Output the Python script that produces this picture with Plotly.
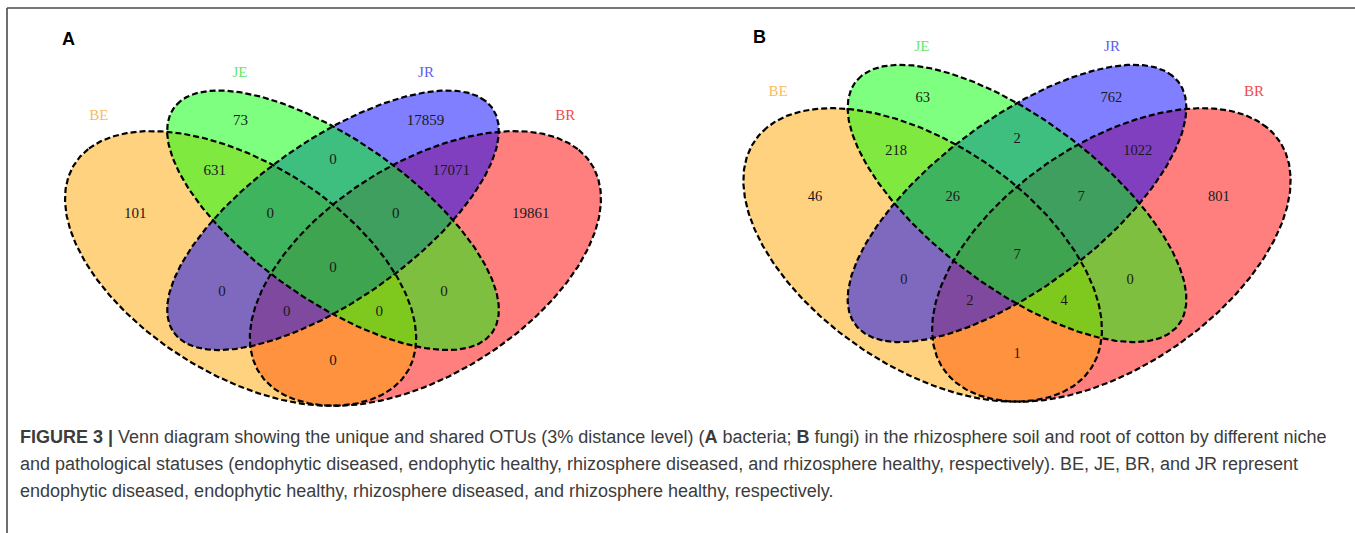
import numpy as np
import plotly.graph_objects as go

# ---------------- data ----------------
set_names = ["BE", "JE", "JR", "BR"]
region_names = ["JE", "JR", "BE&JE", "JE&JR", "JR&BR", "BE", "BE&JE&JR", "JE&JR&BR",
                "BR", "BE&JE&JR&BR", "BE&JR", "JE&BR", "BE&JR&BR", "BE&JE&BR", "BE&BR"]
counts_A = [73, 17859, 631, 0, 17071, 101, 0, 0, 19861, 0, 0, 0, 0, 0, 0]
counts_B = [63, 762, 218, 2, 1022, 46, 26, 7, 801, 7, 0, 0, 2, 4, 1]
panel_letters = ["A", "B"]

# ---------------- layout / geometry (normalised venn units) ----------------
W, H = 1355, 533
# centre u, centre v, semi-major, semi-minor, major-axis angle (deg)
ellipse_geom = {
    "BE": (0.35, 0.47, 0.35, 0.20, 135),
    "JE": (0.50, 0.57, 0.35, 0.15, 135),
    "JR": (0.50, 0.57, 0.35, 0.15, 45),
    "BR": (0.65, 0.47, 0.35, 0.20, 45),
}
fill_rgba = {
    "BE": "rgba(255,165,0,0.5)",
    "JE": "rgba(0,255,0,0.5)",
    "JR": "rgba(0,0,255,0.5)",
    "BR": "rgba(255,0,0,0.5)",
}
label_color = {"BE": "#F6BC62", "JE": "#66E866", "JR": "#5C5CF2", "BR": "#EE4B4B"}
fill_order = ["BR", "BE", "JR", "JE"]
cat_pos = {"BE": (0.120, 0.786), "JE": (0.349, 0.874), "JR": (0.651, 0.874), "BR": (0.877, 0.786)}
region_pos = [(0.350, 0.775), (0.650, 0.775), (0.308, 0.672), (0.500, 0.695), (0.692, 0.672),
              (0.179, 0.582), (0.398, 0.582), (0.602, 0.582), (0.821, 0.582), (0.500, 0.470),
              (0.320, 0.420), (0.680, 0.420), (0.425, 0.379), (0.575, 0.379), (0.500, 0.277)]

# pixel mapping for each panel: X0, sx, Y0, sy, x-domain
panels = [
    dict(X0=25.0, sx=616.0, Y0=495.0, sy=482.0, dom=(0.0, 0.5), counts=counts_A, fs=15),
    dict(X0=702.5, sx=629.0, Y0=497.0, sy=515.0, dom=(0.5, 1.0), counts=counts_B, fs=14.5),
]


def ellipse_xy(cu, cv, a, b, ang, n=400):
    t = np.linspace(0, 2 * np.pi, n)
    r = np.deg2rad(ang)
    x = cu + a * np.cos(t) * np.cos(r) - b * np.sin(t) * np.sin(r)
    y = cv + a * np.cos(t) * np.sin(r) + b * np.sin(t) * np.cos(r)
    return x, y


fig = go.Figure()
layout_axes = {}
for i, p in enumerate(panels):
    sfx = "" if i == 0 else str(i + 1)
    xa, ya = "x" + sfx, "y" + sfx
    # fills
    for s in fill_order:
        ex, ey = ellipse_xy(*ellipse_geom[s])
        fig.add_trace(go.Scatter(x=ex, y=ey, mode="lines", fill="toself",
                                 fillcolor=fill_rgba[s], line=dict(width=0),
                                 hoverinfo="skip", showlegend=False, xaxis=xa, yaxis=ya))
    # outlines
    for s in set_names:
        ex, ey = ellipse_xy(*ellipse_geom[s])
        fig.add_trace(go.Scatter(x=ex, y=ey, mode="lines",
                                 line=dict(color="#000000", width=2.2, dash="6px,3px"),
                                 hoverinfo="skip", showlegend=False, xaxis=xa, yaxis=ya))
    # region counts
    fig.add_trace(go.Scatter(x=[q[0] for q in region_pos], y=[q[1] for q in region_pos],
                             mode="text", text=[str(c) for c in p["counts"]],
                             textfont=dict(family="Liberation Serif", size=p["fs"], color="#1a1a1a"),
                             hoverinfo="skip", showlegend=False, xaxis=xa, yaxis=ya))
    # category labels
    fig.add_trace(go.Scatter(x=[cat_pos[s][0] for s in set_names], y=[cat_pos[s][1] for s in set_names],
                             mode="text", text=set_names,
                             textfont=dict(family="Liberation Serif", size=15,
                                           color=[label_color[s] for s in set_names]),
                             hoverinfo="skip", showlegend=False, xaxis=xa, yaxis=ya))
    d0, d1 = p["dom"]
    xr = [(d0 * W - p["X0"]) / p["sx"], (d1 * W - p["X0"]) / p["sx"]]
    yr = [(p["Y0"] - H) / p["sy"], p["Y0"] / p["sy"]]
    layout_axes["xaxis" + sfx] = dict(domain=[d0, d1], range=xr, visible=False, fixedrange=True,
                                      anchor=ya)
    layout_axes["yaxis" + sfx] = dict(domain=[0, 1], range=yr, visible=False, fixedrange=True,
                                      anchor=xa)

caption_lines = [
    "<b>FIGURE 3 |</b> Venn diagram showing the unique and shared OTUs (3% distance level) "
    "(<b>A</b> bacteria; <b>B</b> fungi) in the rhizosphere soil and root of cotton by different niche",
    "and pathological statuses (endophytic diseased, endophytic healthy, rhizosphere diseased, "
    "and rhizosphere healthy, respectively). BE, JE, BR, and JR represent",
    "endophytic diseased, endophytic healthy, rhizosphere diseased, and rhizosphere healthy, respectively.",
]
caption_y = [437, 464, 491]

annotations = []
for t, yy in zip(caption_lines, caption_y):
    annotations.append(dict(text=t, x=18 / W, y=1 - yy / H, xref="paper", yref="paper",
                            xanchor="left", yanchor="middle", showarrow=False,
                            font=dict(family="Liberation Sans", size=18, color="#3c3c3c")))
for lt, (px, py) in zip(panel_letters, [(68, 39), (760, 37)]):
    annotations.append(dict(text="<b>%s</b>" % lt, x=px / W, y=1 - py / H, xref="paper", yref="paper",
                            xanchor="center", yanchor="middle", showarrow=False,
                            font=dict(family="Liberation Sans", size=18, color="#000000")))

shapes = [
    dict(type="line", xref="paper", yref="paper", x0=7 / W, x1=1, y0=1 - 8 / H, y1=1 - 8 / H,
         line=dict(color="#4a4a4a", width=1.6)),
    dict(type="line", xref="paper", yref="paper", x0=7 / W, x1=7 / W, y0=0, y1=1 - 8 / H,
         line=dict(color="#4a4a4a", width=1.6)),
]

fig.update_layout(width=W, height=H, margin=dict(l=0, r=0, t=0, b=0),
                  paper_bgcolor="white", plot_bgcolor="rgba(0,0,0,0)",
                  annotations=annotations, shapes=shapes, **layout_axes)

fig.write_html("out.html")
